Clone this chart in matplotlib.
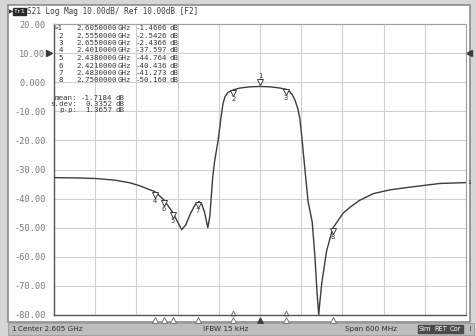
import matplotlib
matplotlib.use('Agg')
import matplotlib.pyplot as plt
from matplotlib.patches import Rectangle
from matplotlib import transforms

W, H = 476, 336

# S21 trace (MHz, dB)
freq_mhz = [2305, 2340, 2366, 2395, 2416, 2430, 2445, 2452, 2465, 2478, 2485,
            2491, 2497, 2503, 2510, 2516, 2520, 2524, 2529, 2532, 2536, 2539,
            2544, 2548, 2551, 2554, 2558, 2563, 2568, 2576, 2590, 2605, 2620,
            2634, 2643, 2648, 2652, 2656, 2660, 2663, 2666, 2670, 2675, 2681,
            2685, 2688, 2690.5, 2692, 2695, 2702, 2711, 2726, 2736, 2750, 2770,
            2794, 2819, 2867, 2905]
s21_db = [-32.8, -32.9, -33.1, -33.7, -34.6, -35.6, -37.0, -37.6, -40.4, -44.8, -48.0,
          -50.7, -49.0, -45.5, -42.3, -41.0, -41.8, -44.5, -50.0, -46.0, -33.0, -27.0,
          -20.0, -12.5, -7.5, -5.0, -3.6, -2.9, -2.5, -2.0, -1.6, -1.46, -1.6,
          -2.0, -2.44, -3.2, -4.3, -6.2, -9.0, -12.5, -19.0, -29.0, -41.0, -48.0,
          -60.0, -72.0, -80.0, -76.0, -69.0, -58.0, -50.2, -45.0, -43.0, -40.6, -38.3,
          -37.0, -36.2, -34.8, -34.5]

# markers as placed on the trace
marker_ids = [1, 2, 3, 4, 5, 6, 7, 8]
marker_freq_mhz = [2605, 2566, 2643, 2452, 2478, 2465, 2514, 2711]
marker_db = [-1.4606, -2.5426, -2.4366, -37.597, -44.764, -40.436, -41.273, -50.160]

# marker readout table
table_ids = ['>1', '2', '3', '4', '5', '6', '7', '8']
table_freq = ['2.6050000', '2.5550000', '2.6550000', '2.4010000',
              '2.4380000', '2.4210000', '2.4830000', '2.7500000']
table_db = ['-1.4606', '-2.5426', '-2.4366', '-37.597',
            '-44.764', '-40.436', '-41.273', '-50.160']
stat_names = ['mean:', 's.dev:', 'p-p:']
stat_values = ['-1.7184', '0.3352', '1.3657']

y_ticks = [20, 10, 0, -10, -20, -30, -40, -50, -60, -70, -80]
y_ticklabels = ['20.00', '10.00', '0.000', '-10.00', '-20.00', '-30.00',
                '-40.00', '-50.00', '-60.00', '-70.00', '-80.00']
f_start, f_stop = 2305, 2905

mono = 'DejaVu Sans Mono'
ink = '#3c3c3c'
soft = '#7a7a7a'


def fx(px):
    return px / W


def fy(py):
    return 1 - py / H


fig = plt.figure(figsize=(W / 100, H / 100), dpi=100, facecolor='#d6d6d6')

# white instrument panel and status bar, kept behind the axes
fig.patches.append(Rectangle((fx(8), fy(322)), fx(462), 317 / H, transform=fig.transFigure,
                             facecolor='white', edgecolor='#8c8c8c', lw=1.2, zorder=-2))
fig.patches.append(Rectangle((fx(8), fy(335)), fx(466), 12 / H, transform=fig.transFigure,
                             facecolor='#bdbdbd', edgecolor='#9a9a9a', lw=0.6, zorder=-2))

ax = fig.add_axes([fx(54), fy(315), 412 / W, 291 / H])
ax.set_facecolor('none')
ax.set_xlim(f_start, f_stop)
ax.set_ylim(-80, 20)
ax.set_xticks([f_start + i * 60 for i in range(11)])
ax.set_xticklabels([])
ax.set_yticks(y_ticks)
ax.set_yticklabels(y_ticklabels, fontsize=6.2, family=mono, color=soft)
ax.tick_params(length=0, pad=6)
ax.grid(True, color='#cfcfcf', lw=0.8)
for side in ['left', 'bottom']:
    ax.spines[side].set_color('#555555')
    ax.spines[side].set_linewidth(1.0)
for side in ['top', 'right']:
    ax.spines[side].set_color('#a0a0a0')
    ax.spines[side].set_linewidth(0.8)

ax.plot(freq_mhz, s21_db, color=ink, lw=1.0, zorder=3)

# reference level arrows
side_tf = transforms.blended_transform_factory(ax.transAxes, ax.transData)
ax.plot([-0.012], [10], marker='>', ms=4, color=ink, clip_on=False, transform=side_tf)
ax.plot([1.008], [10], marker='<', ms=4, color=ink, clip_on=False, transform=side_tf)
ax.text(1.003, s21_db[-1], '1', fontsize=4.5, family=mono, color=ink, va='center',
        ha='left', transform=side_tf)

# markers on the trace
for mid, f, db in zip(marker_ids, marker_freq_mhz, marker_db):
    if mid == 1:
        tri = transforms.offset_copy(ax.transData, fig=fig, x=0, y=4, units='dots')
        num = transforms.offset_copy(ax.transData, fig=fig, x=0, y=10, units='dots')
    else:
        tri = transforms.offset_copy(ax.transData, fig=fig, x=0, y=-3, units='dots')
        num = transforms.offset_copy(ax.transData, fig=fig, x=0, y=-9, units='dots')
    ax.plot([f], [db], marker='v', ms=4, mfc='white', mec=ink, mew=0.7,
            transform=tri, zorder=4)
    ax.text(f, db, str(mid), fontsize=5, family=mono, color=ink,
            ha='center', va='center', transform=num, zorder=4)

# stimulus markers under the grid
bottom = transforms.blended_transform_factory(ax.transData, ax.transAxes)
for mid, f in zip(marker_ids, marker_freq_mhz):
    filled = mid == 1
    ax.plot([f], [-0.016], marker='^', ms=4.5, mfc=ink if filled else 'white',
            mec=ink if filled else '#666666', mew=0.6, clip_on=False, transform=bottom)
    if mid in (2, 3):
        ax.plot([f], [0.008], marker='^', ms=3.5, mfc='white', mec='#666666',
                mew=0.6, clip_on=False, transform=bottom)

# marker readout table
rows_y = [28, 35.5, 43, 50.5, 58, 65.5, 73, 80.5]
tkw = dict(fontsize=5.4, family=mono, color=ink, va='center')
for ty, tid, tf, tdb in zip(rows_y, table_ids, table_freq, table_db):
    fig.text(fx(63), fy(ty), tid, ha='right', **tkw)
    fig.text(fx(76), fy(ty), tf, ha='left', **tkw)
    fig.text(fx(118), fy(ty), 'GHz', ha='left', **tkw)
    fig.text(fx(167), fy(ty), tdb, ha='right', **tkw)
    fig.text(fx(170), fy(ty), 'dB', ha='left', **tkw)

for sy, name, val in zip([97.5, 103.5, 109.5], stat_names, stat_values):
    fig.text(fx(77), fy(sy), name, ha='right', **tkw)
    fig.text(fx(112), fy(sy), val, ha='right', **tkw)
    fig.text(fx(115), fy(sy), 'dB', ha='left', **tkw)

# title line
fig.text(fx(9), fy(11.5), '\u25b6', fontsize=4, color=ink, va='center', ha='left')
fig.text(fx(13.5), fy(11.5), 'Tr1', fontsize=4.6, family=mono, color='white', va='center',
         ha='left', bbox=dict(boxstyle='square,pad=0.15', fc='#2a2a2a', ec='#2a2a2a'))
fig.text(fx(27), fy(11.5), 'S21 Log Mag 10.00dB/ Ref 10.00dB [F2]', fontsize=5.6,
         family=mono, color=ink, va='center', ha='left')

# status bar
sb = dict(fontsize=5.2, color='#2e2e2e', va='center')
fig.text(fx(11), fy(329), '1', ha='left', **sb)
fig.text(fx(18), fy(329), 'Center 2.605 GHz', ha='left', **sb)
fig.text(fx(203), fy(329), 'IFBW 15 kHz', ha='left', **sb)
fig.text(fx(397), fy(329), 'Span 600 MHz', ha='right', **sb)
for bx, lab in zip([419, 434, 450], ['Sim', 'RET', 'Cor']):
    fig.text(fx(bx), fy(329), lab, ha='left', fontsize=4.8, color='white', va='center',
             bbox=dict(boxstyle='square,pad=0.2', fc='#4a4a4a', ec='#4a4a4a'))
fig.text(fx(469), fy(329), '!', ha='left', **sb)

fig.savefig('out.png', dpi=100, facecolor=fig.get_facecolor())
